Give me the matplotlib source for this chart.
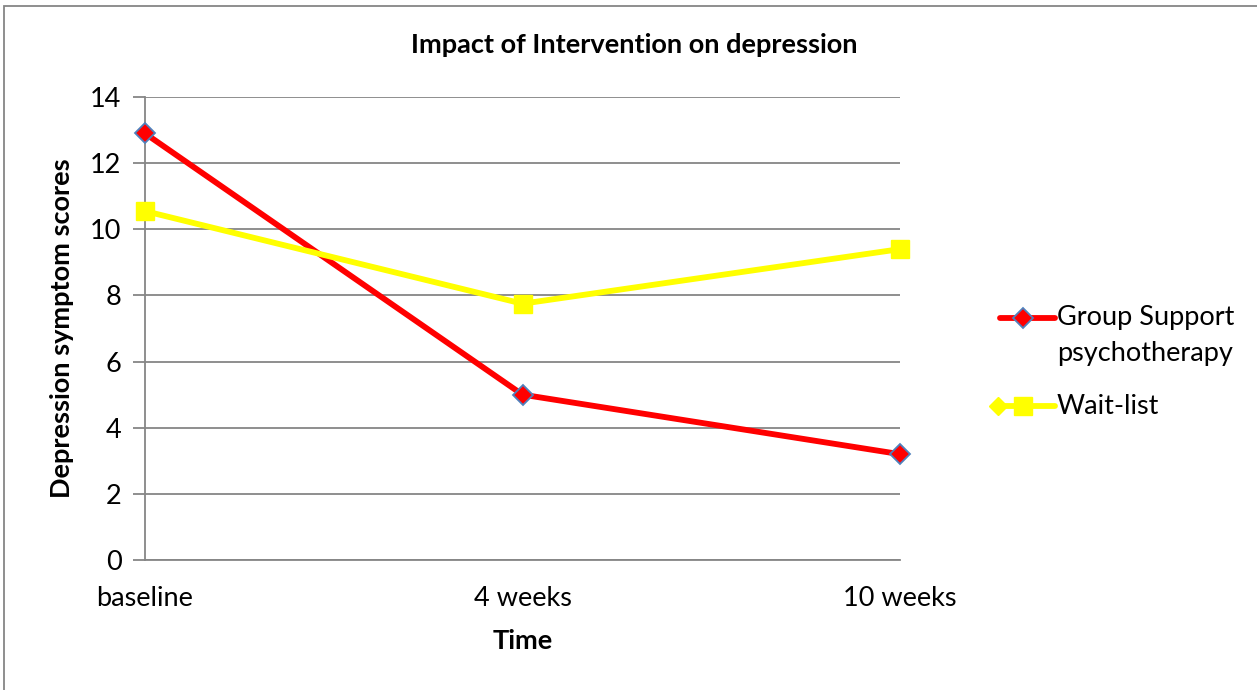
import matplotlib
matplotlib.use("Agg")
import matplotlib.pyplot as plt
from matplotlib.lines import Line2D
from matplotlib.patches import Rectangle

plt.rcParams["font.family"] = ["Lato", "DejaVu Sans"]

time_points = ["baseline", "4 weeks", "10 weeks"]
group_support = [12.9, 5.0, 3.2]
wait_list = [10.55, 7.75, 9.4]
y_ticks = [0, 2, 4, 6, 8, 10, 12, 14]

W, H = 1257, 690
fig = plt.figure(figsize=(W / 100, H / 100), dpi=100)
ax = fig.add_axes([145 / W, 1 - 560 / H, 755 / W, 463 / H])

grid_col = "#868686"
red, blue_edge, yellow = "#FF0000", "#4F81BD", "#FFFF00"
x = list(range(len(time_points)))

ax.plot(x, group_support, color=red, lw=4.2, marker="D", markersize=10,
        markerfacecolor=red, markeredgecolor=blue_edge, markeredgewidth=1.3,
        zorder=3, clip_on=False)
ax.plot(x, wait_list, color=yellow, lw=4.2, marker="s", markersize=13,
        markerfacecolor=yellow, markeredgecolor=yellow,
        zorder=3, clip_on=False)

ax.set_xlim(0, len(time_points) - 1)
ax.set_ylim(0, 14)
ax.set_yticks(y_ticks)
ax.set_xticks(x)
ax.set_xticklabels(time_points)
ax.yaxis.grid(True, color=grid_col, lw=1.3)
ax.set_axisbelow(True)

for side in ("top", "right"):
    ax.spines[side].set_visible(False)
for side in ("left", "bottom"):
    ax.spines[side].set_color(grid_col)
    ax.spines[side].set_linewidth(1.3)

FS = 19.5
ax.tick_params(axis="y", length=9, width=1.3, color=grid_col, labelsize=FS, pad=8)
ax.tick_params(axis="x", length=0, labelsize=FS, pad=19)

ax.set_ylabel("Depression symptom scores", fontsize=FS, fontweight="bold")
ax.yaxis.set_label_coords((62 - 145) / 755, 0.5)
ax.set_xlabel("Time", fontsize=FS, fontweight="bold")
ax.xaxis.set_label_coords(0.5, (560 - 641) / 463)
ax.xaxis.label.set_va("center")
ax.yaxis.label.set_va("center")

fig.text(634 / W, 1 - 45 / H, "Impact of Intervention on depression", ha="center", va="center",
         fontsize=FS, fontweight="bold")

# chart frame
fig.patches.append(Rectangle((4 / W, -0.1), 1.2, 1.1 - 6 / H, transform=fig.transFigure,
                             fill=False, edgecolor=grid_col, lw=1.3))

# legend keys
def fx(px):
    return px / W

def fy(py):
    return 1 - py / H

fig.add_artist(Line2D([fx(1000), fx(1055)], [fy(318), fy(318)], color=red, lw=4.2,
                      solid_capstyle="round", transform=fig.transFigure))
fig.add_artist(Line2D([fx(1023)], [fy(318)], marker="D", markersize=10, markerfacecolor=red,
                      markeredgecolor=blue_edge, markeredgewidth=1.3, transform=fig.transFigure))
fig.add_artist(Line2D([fx(997), fx(1055)], [fy(406), fy(406)], color=yellow, lw=4.2,
                      solid_capstyle="round", transform=fig.transFigure))
fig.add_artist(Line2D([fx(998)], [fy(406)], marker="D", markersize=9, markerfacecolor=yellow,
                      markeredgecolor=yellow, transform=fig.transFigure))
fig.add_artist(Line2D([fx(1023)], [fy(406)], marker="s", markersize=13, markerfacecolor=yellow,
                      markeredgecolor=yellow, transform=fig.transFigure))

fig.text(fx(1057), fy(318), "Group Support", ha="left", va="center", fontsize=FS)
fig.text(fx(1057), fy(354), "psychotherapy", ha="left", va="center", fontsize=FS)
fig.text(fx(1057), fy(406), "Wait-list", ha="left", va="center", fontsize=FS)

fig.savefig("out.png", dpi=100)
